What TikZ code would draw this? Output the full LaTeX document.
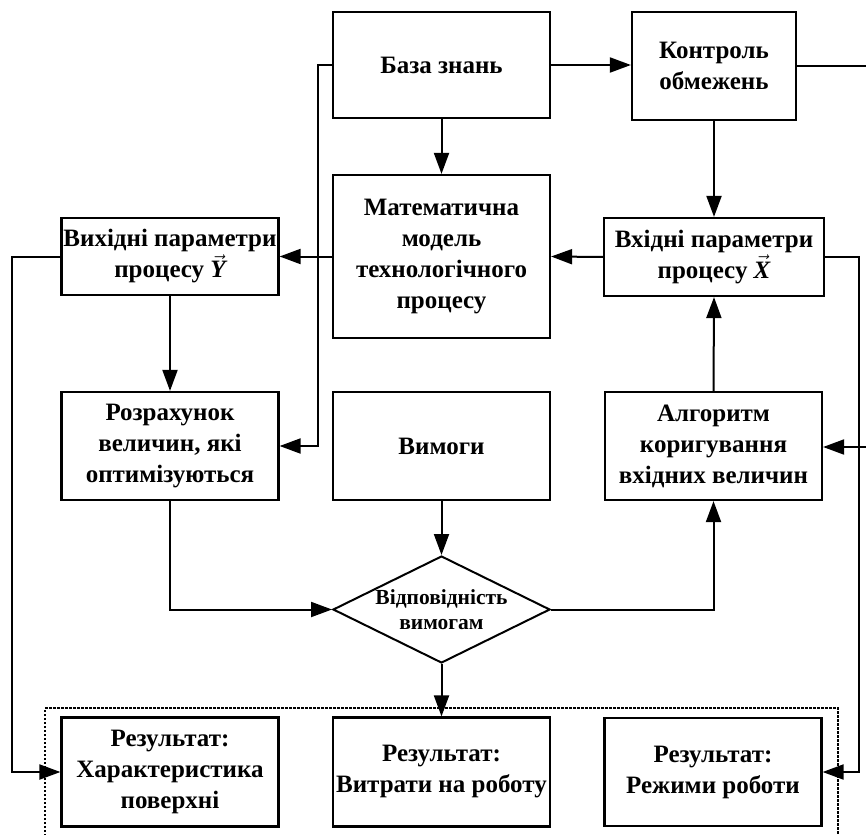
\documentclass[tikz,border=0pt]{standalone}
\usepackage{fontspec}
\setmainfont{Liberation Serif}
\usetikzlibrary{arrows.meta,shapes.geometric}

\newcommand{\vecit}[1]{\smash{$\vec{\mbox{\itshape #1}}$}}

\tikzset{
  blk/.style={draw, line width=2.2pt, align=center, inner sep=0pt,
    font=\fontsize{25}{31}\selectfont\bfseries},
  wide/.style={blk, minimum width=217pt},
  cond/.style={draw, diamond, aspect=2.03, line width=2pt, align=center, inner sep=0pt,
    minimum width=217pt, minimum height=107pt,
    font=\fontsize{21.5}{25}\selectfont\bfseries},
  conn/.style={line width=2pt},
  arr/.style={conn, -{Triangle[length=21pt,width=15pt]}},
  grp/.style={line width=2pt, dash pattern=on 2.5pt off 1.5pt}
}

\begin{document}
\begin{tikzpicture}[x=1pt,y=-1pt]
\useasboundingbox (0,0) rectangle (866,834);

% top row
\node[wide, minimum height=106pt] (base) at (441.5,65) {База знань};
\node[blk, minimum width=164pt, minimum height=108pt] (ctrl) at (714,66) {Контроль\\обмежень};

% second row
\node[wide, minimum height=163pt] (math) at (441.5,256.5) {Математична\\модель\\технологічного\\процесу};
\node[wide, minimum height=77pt] (vyh) at (170,256.5) {Вихідні параметри\\процесу \vecit{Y}};
\node[blk, minimum width=220pt, minimum height=78pt] (vkh) at (714,257) {Вхідні параметри\\процесу \vecit{X}};

% third row
\node[wide, minimum height=108pt] (rozr) at (170,446) {Розрахунок\\величин, які\\оптимізуються};
\node[wide, minimum height=108pt] (vym) at (441.5,446) {Вимоги};
\node[wide, minimum height=108pt] (alg) at (713.5,446) {Алгоритм\\коригування\\вхідних величин};

% decision
\node[cond] (dia) at (441.5,609.5) {Відповідність\\вимогам};

% results
\node[wide, minimum height=109pt] (res1) at (170,772) {Результат:\\Характеристика\\поверхні};
\node[wide, minimum height=109pt] (res2) at (441.5,772) {Результат:\\Витрати на роботу};
\node[wide, minimum height=108pt] (res3) at (713,772) {Результат:\\Режими роботи};

% group frame around the results
\draw[grp] (45,860) -- (45,708) -- (838,708) -- (838,860);

% routing points
\coordinate (kb) at (318,0);
\coordinate (kl) at (12,0);
\coordinate (kr) at (859,0);
\coordinate (kout) at (890,66);
\coordinate (kin) at (890,447);

% connectors
\draw[arr] (base.east) -- (base.east -| ctrl.west);
\draw[conn] (ctrl.east) -- (kout);
\draw[arr] (base.south) -- (math.north);
\draw[arr] (base.west) -| (kb |- rozr.east) -- (rozr.east);
\draw[arr] (ctrl.south) -- (vkh.north);
\draw[arr] (vkh.west) -- (math.east);
\draw[arr] (math.west) -- (vyh.east);
\draw[arr] (vyh.south) -- (rozr.north);
\draw[arr] (vyh.west) -| (kl |- res1.west) -- (res1.west);
\draw[arr] (rozr.south) |- (dia.west);
\draw[arr] (vym.south) -- (dia.north);
\draw[arr] (dia.east) -| (alg.south);
\draw[arr] (alg.north) -- (vkh.south);
\draw[arr] (dia.south) -- (res2.north);
\draw[arr] (vkh.east) -| (kr |- res3.east) -- (res3.east);
\draw[arr] (kin) -- (kin -| alg.east);
\end{tikzpicture}
\end{document}
